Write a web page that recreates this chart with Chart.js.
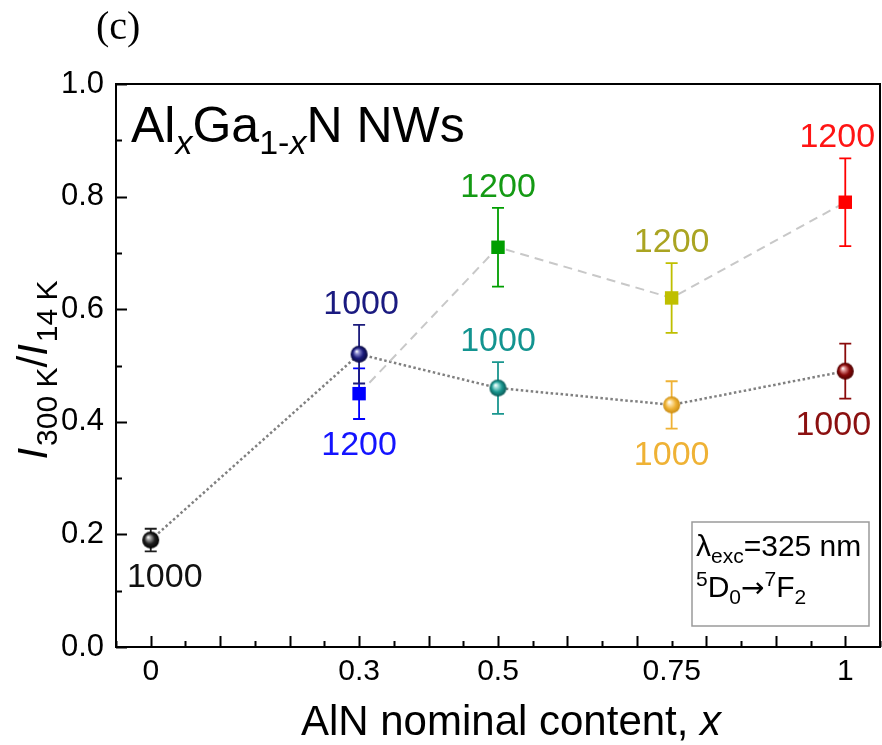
<!DOCTYPE html>
<html>
<head>
<meta charset="utf-8">
<script src="https://cdn.jsdelivr.net/npm/chart.js@4"></script>
<style>
  html, body { margin: 0; padding: 0; background: #fff; overflow: hidden; }
  canvas { display: block; }
</style>
</head>
<body>
<canvas id="ratioChart" width="882" height="745"></canvas>
<script>
// AlN content of the samples
const xContent = [0, 0.3, 0.5, 0.75, 1];
const x1200 = [0.3, 0.5, 0.75, 1];

// I(300 K)/I(14 K) and errors, samples annealed at 1000 C
const ratio1000 = [0.19, 0.52, 0.46, 0.43, 0.49];
const err1000 = [0.02, 0.052, 0.046, 0.042, 0.049];
const temp1000 = ["1000", "1000", "1000", "1000", "1000"];

// same for 1200 C
const ratio1200 = [0.45, 0.71, 0.62, 0.79];
const err1200 = [0.045, 0.07, 0.062, 0.078];
const temp1200 = ["1200", "1200", "1200", "1200"];

const xTickLabels = [0, 0.3, 0.5, 0.75, 1];
const yTickLabels = [0, 0.2, 0.4, 0.6, 0.8, 1.0];

const SANS = '"Liberation Sans", Arial, sans-serif';

const sphereColors = [
    { base: "#1e1e1e", light: "#a0a0a0", dark: "#000000", text: "#111111" },
    { base: "#1c1c7c", light: "#8c8cd0", dark: "#08083c", text: "#1a1a80" },
    { base: "#1a968f", light: "#9fe0dc", dark: "#0a5854", text: "#139490" },
    { base: "#efb235", light: "#fde3a8", dark: "#c98b12", text: "#efb235" },
    { base: "#8a0b0b", light: "#e09090", dark: "#4a0000", text: "#8b1010" }
];
const squareColors = ["#0000ff", "#009e00", "#bfbf00", "#ff0000"];
const squareText = ["#1414ff", "#149a14", "#aaa422", "#ff1414"];

// shaded ball used as a point style
function makeSphere(c, r) {
    const cv = document.createElement("canvas");
    cv.width = cv.height = 2 * r + 2;
    const g = cv.getContext("2d");
    const cx = r + 1, cy = r + 1;
    const grad = g.createRadialGradient(cx - r * 0.3, cy - r * 0.35, 0.3, cx, cy, r);
    grad.addColorStop(0, "#ffffff");
    grad.addColorStop(0.22, c.light);
    grad.addColorStop(0.6, c.base);
    grad.addColorStop(1, c.dark);
    g.fillStyle = grad;
    g.beginPath();
    g.arc(cx, cy, r, 0, Math.PI * 2);
    g.fill();
    return cv;
}

const sphereStyles = sphereColors.map(c => makeSphere(c, 8.5));

function near(a, b) { return Math.abs(a - b) < 1e-6; }

function stepTicks(min, max, step) {
    const out = [];
    const n = Math.round((max - min) / step);
    for (let i = 0; i <= n; i++) out.push({ value: +(min + i * step).toFixed(4) });
    return out;
}

// draws a run of text pieces with their own font and baseline shift
function drawRich(ctx, parts, x, y) {
    let cx = x;
    parts.forEach(p => {
        ctx.font = p.font;
        ctx.fillText(p.text, cx, y + (p.dy || 0));
        cx += ctx.measureText(p.text).width + (p.gap || 0);
    });
    return cx - x;
}
function richWidth(ctx, parts) {
    let w = 0;
    parts.forEach(p => { ctx.font = p.font; w += ctx.measureText(p.text).width + (p.gap || 0); });
    return w;
}

const errorBars = {
    id: "errorBars",
    beforeDatasetsDraw(chart) {
        const ctx = chart.ctx;
        const xs = chart.scales.x, ys = chart.scales.y;
        ctx.save();
        ctx.lineWidth = 1.8;
        chart.data.datasets.forEach(ds => {
            ds.data.forEach((p, i) => {
                const px = xs.getPixelForValue(p.x);
                const top = ys.getPixelForValue(p.y + ds.errors[i]);
                const bot = ys.getPixelForValue(p.y - ds.errors[i]);
                ctx.strokeStyle = ds.barColors[i];
                ctx.beginPath();
                ctx.moveTo(px, top); ctx.lineTo(px, bot);
                ctx.moveTo(px - 6, top); ctx.lineTo(px + 6, top);
                ctx.moveTo(px - 6, bot); ctx.lineTo(px + 6, bot);
                ctx.stroke();
            });
        });
        ctx.restore();
    }
};

const pointLabels = {
    id: "pointLabels",
    afterDatasetsDraw(chart) {
        const ctx = chart.ctx;
        const xs = chart.scales.x, ys = chart.scales.y;
        ctx.save();
        ctx.font = "34px " + SANS;
        ctx.textAlign = "center";
        ctx.textBaseline = "alphabetic";
        chart.data.datasets.forEach(ds => {
            ds.data.forEach((p, i) => {
                const px = xs.getPixelForValue(p.x) + ds.labelDx[i];
                let cy;
                if (ds.labelSide[i] === "above") {
                    cy = ys.getPixelForValue(p.y + ds.errors[i]) - 23;
                } else {
                    cy = ys.getPixelForValue(p.y - ds.errors[i]) + 24;
                }
                ctx.fillStyle = ds.textColors[i];
                ctx.fillText(ds.labels[i], px, cy + 12);
            });
        });
        ctx.restore();
    }
};

// frame, inward ticks, titles and annotation
const frame = {
    id: "frame",
    afterDraw(chart) {
        const ctx = chart.ctx;
        const a = chart.chartArea;
        const xs = chart.scales.x, ys = chart.scales.y;
        ctx.save();
        ctx.strokeStyle = "#000";
        ctx.lineWidth = 2;
        ctx.strokeRect(a.left, a.top, a.right - a.left, a.bottom - a.top);

        ctx.beginPath();
        xs.ticks.forEach(t => {
            const px = Math.round(xs.getPixelForValue(t.value)) + 0.5;
            const major = near(Math.round(t.value * 10) / 10, t.value);
            ctx.moveTo(px, a.bottom);
            ctx.lineTo(px, a.bottom - (major ? 11 : 6));
        });
        ys.ticks.forEach(t => {
            const py = Math.round(ys.getPixelForValue(t.value)) + 0.5;
            const major = near(Math.round(t.value * 5) / 5, t.value);
            ctx.moveTo(a.left, py);
            ctx.lineTo(a.left + (major ? 11 : 6), py);
        });
        ctx.stroke();

        ctx.fillStyle = "#000";
        ctx.textAlign = "left";
        ctx.textBaseline = "alphabetic";

        // panel letter
        ctx.font = "40px 'Liberation Serif', 'Times New Roman', serif";
        ctx.fillText("(c)", 96, 39);

        // sample name
        drawRich(ctx, [
            { text: "Al", font: "50px " + SANS },
            { text: "x", font: "italic 34px " + SANS, dy: 12 },
            { text: "Ga", font: "50px " + SANS },
            { text: "1-", font: "34px " + SANS, dy: 12 },
            { text: "x", font: "italic 34px " + SANS, dy: 12 },
            { text: "N NWs", font: "50px " + SANS }
        ], 131, 142);

        // x axis title
        const xt = [
            { text: "AlN nominal content, ", font: "42px " + SANS },
            { text: "x", font: "italic 42px " + SANS }
        ];
        const xw = richWidth(ctx, xt);
        drawRich(ctx, xt, 511 - xw / 2, 735);

        // y axis title
        const yt = [
            { text: "I", font: "italic 42px " + SANS, gap: 2 },
            { text: "300 K", font: "30px " + SANS, dy: 10 },
            { text: "/", font: "42px " + SANS },
            { text: "I", font: "italic 42px " + SANS, gap: 2 },
            { text: "14 K", font: "30px " + SANS, dy: 10 }
        ];
        const yw = richWidth(ctx, yt);
        ctx.save();
        ctx.translate(47, 370);
        ctx.rotate(-Math.PI / 2);
        drawRich(ctx, yt, -yw / 2, 0);
        ctx.restore();

        // excitation box
        ctx.strokeStyle = "#9a9a9a";
        ctx.lineWidth = 1.5;
        ctx.strokeRect(692, 522, 177, 104);
        ctx.fillStyle = "#000";
        drawRich(ctx, [
            { text: "\u03bb", font: "30px " + SANS },
            { text: "exc", font: "21px " + SANS, dy: 7 },
            { text: "=325 nm", font: "30px " + SANS }
        ], 696, 556);
        drawRich(ctx, [
            { text: "5", font: "21px " + SANS, dy: -11 },
            { text: "D", font: "30px " + SANS },
            { text: "0", font: "21px " + SANS, dy: 7 },
            { text: "\u2192", font: "28px 'DejaVu Sans', sans-serif" },
            { text: "7", font: "21px " + SANS, dy: -11 },
            { text: "F", font: "30px " + SANS },
            { text: "2", font: "21px " + SANS, dy: 7 }
        ], 696, 597);
        ctx.restore();
    }
};

function noScalePadding(s) {
    s.paddingLeft = 0;
    s.paddingRight = 0;
    s.paddingTop = 0;
    s.paddingBottom = 0;
}

const chart = new Chart(document.getElementById("ratioChart"), {
    type: "line",
    data: {
        datasets: [
            {
                label: "1200",
                data: x1200.map((x, i) => ({ x: x, y: ratio1200[i] })),
                errors: err1200,
                labels: temp1200,
                barColors: squareColors,
                textColors: squareText,
                labelSide: ["below", "above", "above", "above"],
                labelDx: [0, 0, 0, -8],
                borderColor: "#c8c8c8",
                borderWidth: 2,
                borderDash: [9, 6],
                pointStyle: "rect",
                pointRadius: 9.5,
                pointBackgroundColor: squareColors,
                pointBorderWidth: 0,
                tension: 0
            },
            {
                label: "1000",
                data: xContent.map((x, i) => ({ x: x, y: ratio1000[i] })),
                errors: err1000,
                labels: temp1000,
                barColors: sphereColors.map(c => c.base),
                textColors: sphereColors.map(c => c.text),
                labelSide: ["below", "above", "above", "below", "below"],
                labelDx: [14, 2, 0, 0, -12],
                borderColor: "#808080",
                borderWidth: 2.5,
                borderDash: [2.5, 2.5],
                pointStyle: sphereStyles,
                pointRadius: 9,
                tension: 0
            }
        ]
    },
    options: {
        responsive: false,
        animation: false,
        devicePixelRatio: 1,
        layout: { autoPadding: false, padding: { left: 0, right: 2, top: 84, bottom: 0 } },
        plugins: {
            legend: { display: false },
            tooltip: { enabled: false }
        },
        scales: {
            x: {
                type: "linear",
                min: -0.05,
                max: 1.05,
                afterBuildTicks: s => { s.ticks = stepTicks(-0.05, 1.05, 0.05); },
                afterFit: s => { s.height = 98; noScalePadding(s); },
                grid: { display: false, drawTicks: false },
                border: { display: false },
                ticks: {
                    autoSkip: false,
                    maxRotation: 0,
                    padding: 7,
                    color: "#000",
                    font: { family: SANS, size: 30 },
                    callback: v => {
                        const hit = xTickLabels.find(t => near(t, v));
                        return hit === undefined ? "" : String(hit);
                    }
                }
            },
            y: {
                min: 0,
                max: 1,
                afterBuildTicks: s => { s.ticks = stepTicks(0, 1, 0.1); },
                afterFit: s => { s.width = 116; noScalePadding(s); },
                grid: { display: false, drawTicks: false },
                border: { display: false },
                ticks: {
                    autoSkip: false,
                    padding: 12,
                    color: "#000",
                    font: { family: SANS, size: 31 },
                    callback: v => {
                        const hit = yTickLabels.find(t => near(t, v));
                        return hit === undefined ? "" : hit.toFixed(1);
                    }
                }
            }
        }
    },
    plugins: [errorBars, pointLabels, frame]
});
</script>
</body>
</html>
